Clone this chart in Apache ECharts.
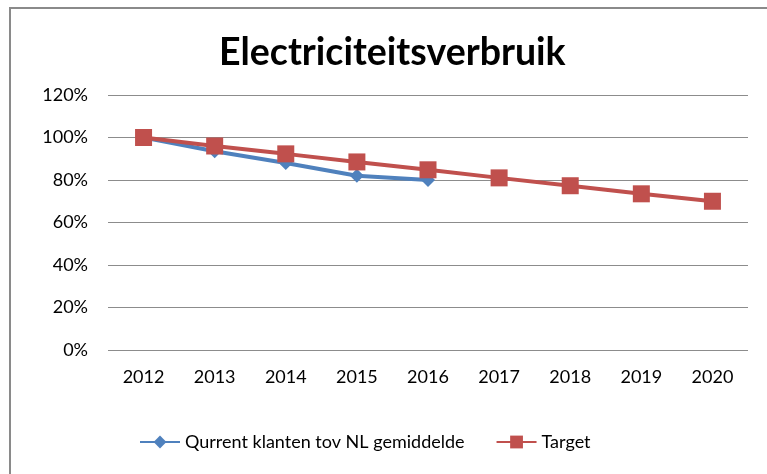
<!DOCTYPE html>
<html>
<head>
<meta charset="utf-8">
<script src="https://cdn.jsdelivr.net/npm/echarts@6/dist/echarts.min.js"></script>
<style>
  html, body { margin: 0; padding: 0; background: #fff; }
  #chart { width: 767px; height: 474px; }
</style>
</head>
<body>
<div id="chart"></div>
<script>
const years = ['2012', '2013', '2014', '2015', '2016', '2017', '2018', '2019', '2020'];
const qurrent = [100, 93.5, 88, 82, 80];
const target = [100, 96, 92.3, 88.5, 84.8, 81, 77.3, 73.5, 70];
const yTicks = [0, 20, 40, 60, 80, 100, 120];

const font = 'Lato, "Open Sans", sans-serif';

const chart = echarts.init(document.getElementById('chart'));
chart.setOption({
  animation: false,
  title: {
    text: 'Electriciteitsverbruik',
    left: 214,
    top: 29,
    textStyle: { fontFamily: font, fontSize: 37.5, fontWeight: 'bold', color: '#000' }
  },
  graphic: [{
    type: 'rect',
    shape: { x: 10, y: 8, width: 800, height: 500 },
    style: { fill: 'none', stroke: '#8a8a8a', lineWidth: 2 }
  }],
  grid: { left: 108, right: 19, top: 95, bottom: 124 },
  legend: {
    bottom: 18,
    left: 134,
    itemGap: 31,
    itemWidth: 40,
    itemHeight: 16,
    textStyle: { fontFamily: font, fontSize: 18, color: '#000' },
    data: ['Qurrent klanten tov NL gemiddelde', 'Target']
  },
  xAxis: {
    type: 'category',
    data: years,
    axisLine: { show: false },
    axisTick: { show: false },
    axisLabel: { fontFamily: font, fontSize: 18, color: '#000', margin: 18 }
  },
  yAxis: {
    type: 'value',
    min: yTicks[0],
    max: yTicks[yTicks.length - 1],
    interval: 20,
    axisLine: { show: false },
    axisTick: { show: false },
    splitLine: { lineStyle: { color: '#8c8c8c', width: 1 } },
    axisLabel: { fontFamily: font, fontSize: 18, color: '#000', margin: 20, formatter: '{value}%' }
  },
  series: [
    {
      name: 'Qurrent klanten tov NL gemiddelde',
      type: 'line',
      data: qurrent,
      symbol: 'diamond',
      symbolSize: 14,
      z: 2,
      lineStyle: { color: '#4F81BD', width: 4 },
      itemStyle: { color: '#4F81BD' }
    },
    {
      name: 'Target',
      type: 'line',
      data: target,
      symbol: 'rect',
      symbolSize: 17,
      z: 3,
      lineStyle: { color: '#C0504D', width: 4 },
      itemStyle: { color: '#C0504D' }
    }
  ]
});
</script>
</body>
</html>
